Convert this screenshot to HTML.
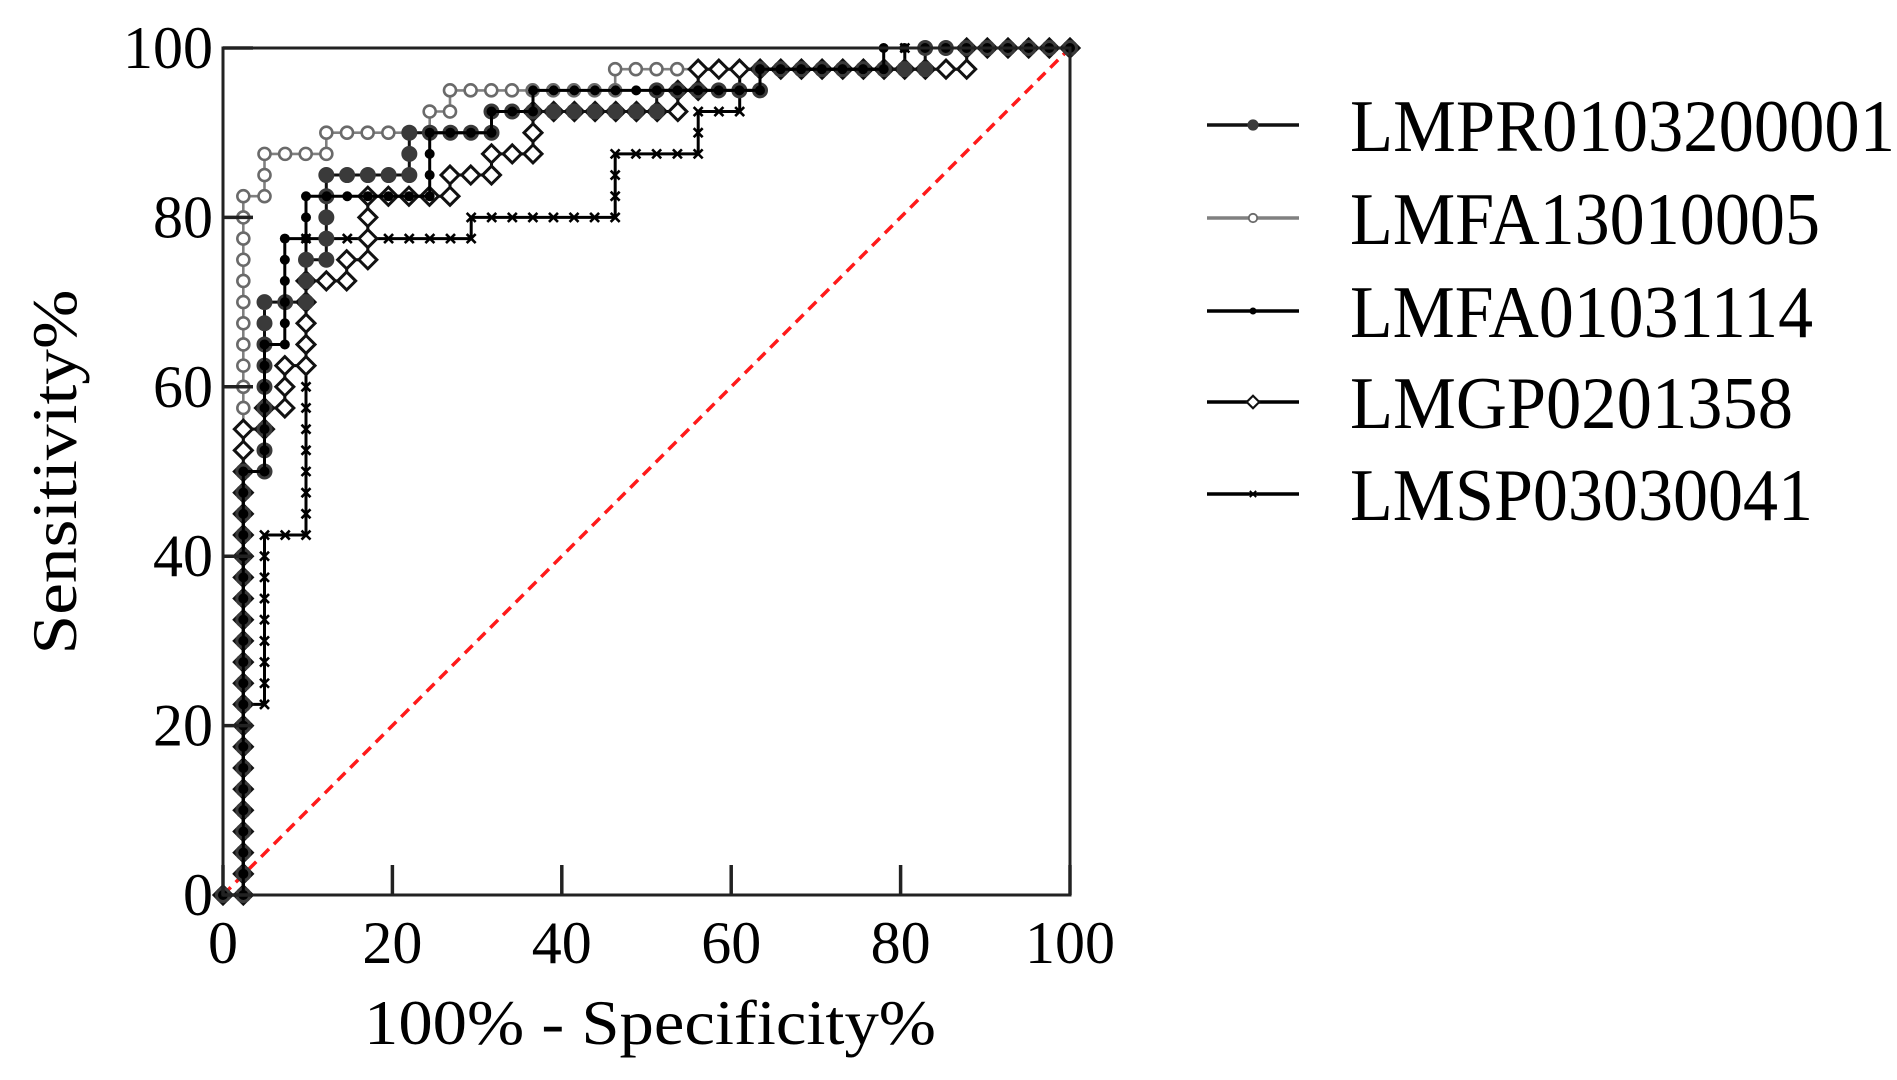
<!DOCTYPE html>
<html><head><meta charset="utf-8"><style>
html,body{margin:0;padding:0;background:#fff;}
svg{display:block;font-family:"Liberation Serif",serif;}
</style></head><body>
<svg id="chart" width="1897" height="1080" viewBox="0 0 1897 1080" xmlns="http://www.w3.org/2000/svg">
<g id="plot"></g>
<g id="axes"></g>
<g id="legend"></g>
</svg>
<script>
const xTicks = [0, 20, 40, 60, 80, 100];
const yTicks = [0, 20, 40, 60, 80, 100];
const seriesNames = ["LMPR0103200001", "LMFA13010005", "LMFA01031114", "LMGP0201358", "LMSP03030041"];
const fprLMPR = [0,2.4,2.4,4.9,4.9,9.8,9.8,12.2,12.2,22.0,22.0,31.7,31.7,51.2,51.2,63.4,63.4,82.9,82.9,100];
const tprLMPR = [0,0,50,50,70,70,75,75,85,85,90,90,92.5,92.5,95,95,97.5,97.5,100,100];
const fprFA13 = [0,2.4,2.4,4.9,4.9,12.2,12.2,24.4,24.4,26.8,26.8,46.3,46.3,82.9,82.9,100];
const tprFA13 = [0,0,82.5,82.5,87.5,87.5,90,90,92.5,92.5,95,95,97.5,97.5,100,100];
const fprFA01 = [0,2.4,2.4,4.9,4.9,7.3,7.3,9.8,9.8,24.4,24.4,31.7,31.7,36.6,36.6,63.4,63.4,78.0,78.0,100];
const tprFA01 = [0,0,50,50,65,65,77.5,77.5,82.5,82.5,90,90,92.5,92.5,95,95,97.5,97.5,100,100];
const fprGP = [0,2.4,2.4,4.9,4.9,7.3,7.3,9.8,9.8,14.6,14.6,17.1,17.1,26.8,26.8,31.7,31.7,36.6,36.6,53.7,53.7,56.1,56.1,87.8,87.8,100];
const tprGP = [0,0,55,55,57.5,57.5,62.5,62.5,72.5,72.5,75,75,82.5,82.5,85,85,87.5,87.5,92.5,92.5,95,95,97.5,97.5,100,100];
const fprSP = [0,2.4,2.4,4.9,4.9,9.8,9.8,29.3,29.3,46.3,46.3,56.1,56.1,61.0,61.0,80.5,80.5,100];
const tprSP = [0,0,22.5,22.5,42.5,42.5,77.5,77.5,80,80,87.5,87.5,92.5,92.5,97.5,97.5,100,100];

const NS = "http://www.w3.org/2000/svg";
const X0 = 223, X1 = 1070, Y0 = 895, Y1 = 48;
const sx = v => X0 + (X1 - X0) * v / 100;
const sy = v => Y0 - (Y0 - Y1) * v / 100;
const XSTEP = 100 / 41, YSTEP = 2.5;
function mk(tag, attrs, parent) {
  const e = document.createElementNS(NS, tag);
  for (const k in attrs) e.setAttribute(k, attrs[k]);
  parent.appendChild(e);
  return e;
}
const plot = document.getElementById('plot');
const axes = document.getElementById('axes');
const legend = document.getElementById('legend');

function marker(type, cx, cy, parent) {
  let el;
  if (type === 'bigcircle') el = mk('circle', {cx, cy, r: 7.5, fill: '#3a3a3a', stroke: '#3a3a3a', 'stroke-width': 1}, parent);
  else if (type === 'opencircle') el = mk('circle', {cx, cy, r: 6, fill: '#fff', stroke: '#6a6a6a', 'stroke-width': 2.6}, parent);
  else if (type === 'dot') el = mk('circle', {cx, cy, r: 5, fill: '#000'}, parent);
  else if (type === 'diamond') el = mk('path', {d: `M${cx-9} ${cy}L${cx} ${cy-9}L${cx+9} ${cy}L${cx} ${cy+9}Z`, fill: '#fff', stroke: '#111', 'stroke-width': 3}, parent);
  else el = mk('path', {d: `M${cx-4.5} ${cy-4.5}L${cx+4.5} ${cy+4.5}M${cx-4.5} ${cy+4.5}L${cx+4.5} ${cy-4.5}`, stroke: '#000', 'stroke-width': 2.6}, parent);
  
  
  return el;
}
function drawSeries(name, fpr, tpr, color, width, mtype) {
  const g = mk('g', {}, plot);
  
  
  let d = '';
  for (let i = 0; i < fpr.length; i++) d += (i ? 'L' : 'M') + sx(fpr[i]).toFixed(1) + ' ' + sy(tpr[i]).toFixed(1);
  const p = mk('path', {d, fill: 'none', stroke: color, 'stroke-width': width}, g);
  
  
  const pts = [];
  for (let i = 0; i < fpr.length - 1; i++) {
    const dx = fpr[i+1] - fpr[i], dy = tpr[i+1] - tpr[i];
    const n = Math.max(1, Math.round(Math.abs(dx) / XSTEP + Math.abs(dy) / YSTEP));
    for (let k = 0; k < n; k++) pts.push([fpr[i] + dx * k / n, tpr[i] + dy * k / n]);
  }
  pts.push([fpr[fpr.length-1], tpr[tpr.length-1]]);
  pts.forEach(pt => marker(mtype, sx(pt[0]), sy(pt[1]), g));
}

const diag = mk('line', {x1: sx(0), y1: sy(0), x2: sx(100), y2: sy(100), stroke: '#ff1a1a', 'stroke-width': 3.5, 'stroke-dasharray': '11 7'}, plot);



drawSeries(seriesNames[1], fprFA13, tprFA13, '#808080', 2.6, 'opencircle');
drawSeries(seriesNames[4], fprSP, tprSP, '#000', 3, 'cross');
drawSeries(seriesNames[3], fprGP, tprGP, '#000', 3, 'diamond');
drawSeries(seriesNames[0], fprLMPR, tprLMPR, '#111', 3, 'bigcircle');
drawSeries(seriesNames[2], fprFA01, tprFA01, '#000', 3, 'dot');

const frame = mk('rect', {x: X0, y: Y1, width: X1 - X0, height: Y0 - Y1, fill: 'none', stroke: '#222', 'stroke-width': 3}, axes);


xTicks.forEach(t => {
  const l = mk('line', {x1: sx(t), x2: sx(t), y1: Y0, y2: Y0 - 30, stroke: '#222', 'stroke-width': 3.5}, axes);
  
  
  const tx = mk('text', {x: sx(t), y: 963, 'font-size': 60, 'text-anchor': 'middle', fill: '#000'}, axes);
  
  
  tx.textContent = t;
});
yTicks.forEach(t => {
  const l = mk('line', {x1: X0, x2: X0 + 30, y1: sy(t), y2: sy(t), stroke: '#222', 'stroke-width': 3.5}, axes);
  
  
  const tx = mk('text', {x: 213, y: sy(t) + 20, 'font-size': 60, 'text-anchor': 'end', fill: '#000'}, axes);
  
  
  tx.textContent = t;
});
const xt = mk('text', {x: 650, y: 1044, 'font-size': 64, 'text-anchor': 'middle', textLength: 572, lengthAdjust: 'spacingAndGlyphs'}, axes);


xt.textContent = '100% - Specificity%';
const yt = mk('text', {x: 0, y: 0, 'font-size': 64, 'text-anchor': 'middle', textLength: 365, lengthAdjust: 'spacingAndGlyphs', transform: 'translate(76 472) rotate(-90)'}, axes);


yt.textContent = 'Sensitivity%';

const legRows = [125, 218, 311, 402, 494];
const legStyles = [['#111', 'bigcircle'], ['#808080', 'opencircle'], ['#000', 'dot'], ['#000', 'diamond'], ['#000', 'cross']];
const legWidths = [545, 470, 463, 443, 463];
seriesNames.forEach((n, i) => {
  const g = mk('g', {}, legend);
  
  
  const y = legRows[i];
  const l = mk('line', {x1: 1207, x2: 1299, y1: y, y2: y, stroke: legStyles[i][0], 'stroke-width': 3.5}, g);
  
  
  const m = marker(legStyles[i][1], 1253, y, g);
  m.setAttribute('transform', `translate(1253 ${y}) scale(0.7) translate(-1253 ${-y})`);
  const t = mk('text', {x: 1350, y: y + 26, 'font-size': 74, textLength: legWidths[i], lengthAdjust: 'spacingAndGlyphs'}, g);
  
  
  t.textContent = n;
});
</script>
</body></html>
